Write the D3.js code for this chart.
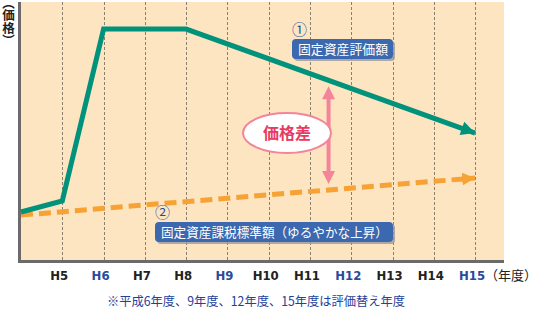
<!DOCTYPE html>
<html>
<head>
<meta charset="utf-8">
<script src="https://cdn.jsdelivr.net/npm/d3@7"></script>
<style>
  body { margin: 0; background: #fff; }
  svg { display: block; font-family: "Noto Sans CJK JP", "Noto Sans", sans-serif; }
</style>
</head>
<body>
<svg id="chart" width="550" height="309"></svg>
<script>
// data
const years = [5, 6, 7, 8, 9, 10, 11, 12, 13, 14, 15]
const yearLabels = ['H5', 'H6', 'H7', 'H8', 'H9', 'H10', 'H11', 'H12', 'H13', 'H14', 'H15']
const revalYears = [6, 9, 12, 15] // 評価替え年度
const assessYears = [4, 5, 6, 8, 15]
const assessValues = [18.6, 22.9, 89.5, 89.5, 49.2] // ① 固定資産評価額
const taxYears = [4, 15]
const taxValues = [17.4, 31.8] // ② 課税標準額
const gapYear = 11.45

const svg = d3.select('#chart')
const x = d3.scaleLinear().domain([4, 15.7]).range([21, 504])
const y = d3.scaleLinear().domain([0, 100]).range([260, 2])

const defs = svg.append('defs')
function marker (id, color, w, h) {
  defs.append('marker')
    .attr('id', id)
    .attr('viewBox', '0 0 10 10')
    .attr('refX', 10).attr('refY', 5)
    .attr('markerUnits', 'userSpaceOnUse')
    .attr('markerWidth', w).attr('markerHeight', h)
    .attr('orient', 'auto')
    .append('path').attr('d', 'M0,0L10,5L0,10Z').attr('fill', color)
}
marker('ag', '#00927a', 15, 14)
marker('ao', '#f7a234', 13, 15)

const shadow = defs.append('filter').attr('id', 'sh').attr('x', '-10%').attr('y', '-20%').attr('width', '130%').attr('height', '160%')
shadow.append('feDropShadow').attr('dx', 2).attr('dy', 2).attr('stdDeviation', 0.6).attr('flood-color', '#9a9a9a').attr('flood-opacity', 0.8)

// background
svg.append('rect').attr('x', 21).attr('y', 2).attr('width', 483).attr('height', 258).attr('fill', '#fde5c1')

// grid
svg.selectAll('.grid').data(years).join('line')
  .attr('class', 'grid')
  .attr('x1', d => Math.round(x(d)) + 0.5).attr('x2', d => Math.round(x(d)) + 0.5)
  .attr('y1', 2).attr('y2', 260)
  .attr('stroke', '#8a8070').attr('stroke-width', 1).attr('stroke-dasharray', '3,2')

// axes bars
svg.append('rect').attr('x', 18).attr('y', 2).attr('width', 3).attr('height', 261).attr('fill', '#6b6b6b')
svg.append('rect').attr('x', 18).attr('y', 260).attr('width', 486).attr('height', 3).attr('fill', '#6b6b6b')

// x labels
svg.selectAll('.xl').data(years).join('text')
  .attr('class', 'xl')
  .attr('x', d => x(d) - 3).attr('y', 280)
  .attr('text-anchor', 'middle')
  .style('font-family', '"Liberation Sans Narrow", "DejaVu Sans Condensed", sans-serif')
  .attr('font-size', 13).attr('font-weight', 'bold')
  .attr('fill', d => revalYears.includes(d) ? '#2a4a9c' : '#222')
  .text((d, i) => yearLabels[i])
svg.append('text').attr('x', 485).attr('y', 280).attr('font-size', 13).attr('fill', '#222')
  .attr('textLength', 52).attr('lengthAdjust', 'spacingAndGlyphs').text('（年度）')

// y label, vertical writing
svg.append('text')
  .attr('x', 8.5).attr('y', 3)
  .style('writing-mode', 'vertical-rl')
  .style('font-feature-settings', '"vpal"')
  .attr('font-size', 12.5).attr('font-weight', 'bold').attr('fill', '#222')
  .text('（価格）')

// lines
const line = d3.line().x(d => x(d[0])).y(d => y(d[1]))
svg.append('path')
  .attr('d', line(d3.zip(taxYears, taxValues)))
  .attr('fill', 'none').attr('stroke', '#f7a234').attr('stroke-width', 5)
  .attr('stroke-dasharray', '12,6').attr('marker-end', 'url(#ao)')
svg.append('path')
  .attr('d', line(d3.zip(assessYears, assessValues)))
  .attr('fill', 'none').attr('stroke', '#00927a').attr('stroke-width', 5)
  .attr('stroke-linejoin', 'miter').attr('marker-end', 'url(#ag)')

// gap arrow between the two lines
const interp = (xs, vs, t) => {
  for (let i = 1; i < xs.length; i++) {
    if (t <= xs[i]) return vs[i - 1] + (vs[i] - vs[i - 1]) * (t - xs[i - 1]) / (xs[i] - xs[i - 1])
  }
  return vs[vs.length - 1]
}
const gx = x(gapYear)
const gTop = y(interp(assessYears, assessValues, gapYear)) + 6
const gBot = y(interp(taxYears, taxValues, gapYear)) - 6
svg.append('line')
  .attr('x1', gx).attr('x2', gx)
  .attr('y1', gTop + 8).attr('y2', gBot - 8)
  .attr('stroke', '#f4849a').attr('stroke-width', 4)
svg.append('path').attr('fill', '#f4849a')
  .attr('d', `M${gx},${gTop}L${gx + 6.5},${gTop + 13}L${gx - 6.5},${gTop + 13}Z`)
svg.append('path').attr('fill', '#f4849a')
  .attr('d', `M${gx},${gBot}L${gx + 6.5},${gBot - 13}L${gx - 6.5},${gBot - 13}Z`)

svg.append('ellipse').attr('cx', 287).attr('cy', 133).attr('rx', 44).attr('ry', 20)
  .attr('fill', '#fff').attr('stroke', '#f4849a').attr('stroke-width', 2)
svg.append('text').attr('x', 287).attr('y', 139).attr('text-anchor', 'middle')
  .attr('font-size', 16).attr('font-weight', 'bold').attr('fill', '#e83a62').text('価格差')

// labels
function tag (bx, by, bw, num, text, tw) {
  svg.append('text').attr('x', bx).attr('y', by - 4).attr('font-size', 15).attr('fill', '#1f4fa0').text(num)
  svg.append('rect').attr('x', bx).attr('y', by).attr('width', bw).attr('height', 20).attr('rx', 4)
    .attr('fill', '#3a67ae').attr('filter', 'url(#sh)')
  svg.append('text').attr('x', bx + 6).attr('y', by + 15).attr('font-size', 13).attr('fill', '#fff')
    .attr('textLength', tw).attr('lengthAdjust', 'spacingAndGlyphs').text(text)
}
tag(292, 39, 101, '①', '固定資産評価額', 90)
tag(155, 222, 238, '②', '固定資産課税標準額（ゆるやかな上昇）', 227)

// footnote
svg.append('text').attr('x', 107).attr('y', 306)
  .attr('font-size', 12.5).attr('fill', '#23409a')
  .attr('textLength', 298).attr('lengthAdjust', 'spacingAndGlyphs')
  .text('※平成6年度、9年度、12年度、15年度は評価替え年度')
</script>
</body>
</html>
